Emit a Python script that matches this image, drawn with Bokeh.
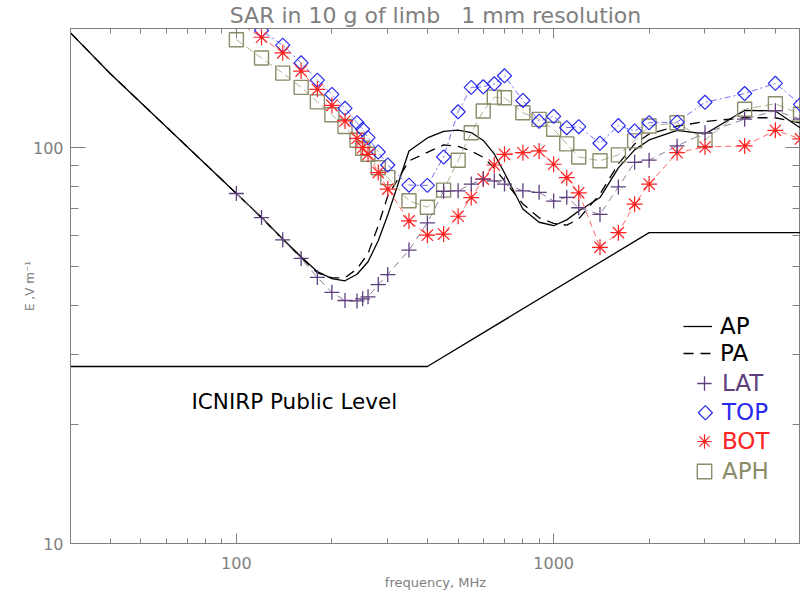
import numpy as np
from bokeh.plotting import figure
from bokeh.models import (LogAxis, FixedTicker, Label, Legend, LegendItem,
                          Range1d, LinearScale)
from bokeh.embed import file_html
from bokeh.resources import INLINE

# ---------------- data ----------------
freq = [100, 120, 140, 160, 180, 200, 220, 240, 250, 260, 280, 300, 350, 400, 450,
        500, 550, 600, 650, 700, 800, 900, 1000, 1100, 1200, 1400, 1600, 1800, 2000,
        2450, 3000, 4000, 5000, 6000]

lat = [76.6, 66.6, 58.5, 52.5, 47.0, 43.1, 41.1, 41.0, 41.5, 42.0, 45.1, 47.8, 55.1, 64.6, 77.6,
       77.8, 80.9, 83.3, 82.4, 80.9, 77.8, 77.1, 73.3, 74.9, 70.5, 67.8, 79.6, 91.8, 93.0,
       101.0, 109.0, 118.0, 124.0, 118.0]

top = [215.0, 197.7, 181.5, 163.8, 148.1, 136.3, 125.7, 115.6, 111.3, 106.0, 97.5, 90.4, 80.4, 80.3, 94.7,
       123.2, 142.0, 142.5, 145.0, 151.9, 131.6, 116.6, 120.0, 112.3, 113.0, 102.6, 113.7, 110.2, 115.6,
       116.0, 130.2, 137.0, 145.4, 128.6]

bot = [208.0, 190.1, 173.6, 156.1, 140.4, 127.9, 116.8, 105.6, 100.0, 96.2, 86.5, 78.6, 65.3, 60.1, 60.5,
       67.1, 74.8, 83.3, 90.4, 96.2, 97.1, 98.1, 90.8, 84.0, 76.9, 56.0, 61.0, 72.0, 80.9,
       97.1, 100.4, 101.0, 110.6, 105.2]

aph = [187.4, 168.4, 154.3, 142.0, 130.5, 121.1, 113.1, 104.4, 99.7, 96.2, 89.0, 84.0, 73.4, 70.7, 78.1,
       92.9, 109.1, 123.8, 134.2, 133.7, 122.5, 117.9, 111.3, 102.2, 94.7, 92.7, 95.9, 104.0, 113.4,
       115.6, 104.6, 125.0, 129.1, 121.4]

curve_freq = [30, 40, 100, 120, 140, 160, 180, 200, 220, 240, 260, 280, 300, 350, 400, 450,
              500, 550, 600, 650, 700, 800, 900, 1000, 1100, 1200, 1400, 1600, 1800, 2000,
              2450, 3000, 4000, 5000, 6000]

ap = [195.0, 154.0, 76.6, 66.7, 58.8, 53.0, 48.6, 46.7, 46.1, 47.9, 51.5, 58.2, 67.6, 98.1, 105.8, 109.9,
      110.8, 109.2, 104.3, 96.4, 86.3, 70.0, 64.8, 63.5, 65.7, 69.2, 74.8, 88.9, 98.7, 104.6,
      110.6, 108.3, 124.2, 123.8, 112.1]

pa = [195.0, 154.0, 76.6, 66.5, 58.6, 52.8, 48.3, 46.9, 46.9, 49.4, 54.0, 63.5, 75.5, 92.6, 97.3, 101.6,
      100.7, 98.1, 94.5, 88.9, 82.4, 72.1, 66.5, 64.4, 63.7, 66.1, 76.4, 91.0, 102.2, 108.3,
      113.4, 116.4, 119.0, 119.0, 115.4]

icnirp_freq = [30, 400, 2000, 6000]
icnirp_e = [28.0, 28.0, 61.0, 61.0]

x_major = [100, 1000]
x_minor = [30, 40, 50, 60, 70, 80, 90, 200, 300, 400, 500, 600, 700, 800, 900,
           2000, 3000, 4000, 5000, 6000]
y_major = [10, 100]
y_minor = [20, 30, 40, 50, 60, 70, 80, 90, 200]

TITLE = "SAR in 10 g of limb \u00a0\u00a01 mm resolution"

# legend key layout (pixels inside the plot frame, from its bottom-left corner)
FRAME_W, FRAME_H = 729, 516
KEY_LEFT = 616
KEY_X = KEY_LEFT + 18
TOP_KEY_Y = 131
BOT_KEY_Y = 102

# ---------------- styling ----------------
FONT = "DejaVu Sans"
GRAY = "#808080"
C_LAT = "#5e3f7e"
C_TOP = "#2a2aee"
C_BOT = "#ff2222"
C_APH = "#8c8c6a"

p = figure(width=800, height=597, x_axis_type="log", y_axis_type="log",
           x_range=(30, 6000), y_range=(10, 200),
           output_backend="svg", toolbar_location=None,
           min_border_left=70, min_border_right=0, min_border_top=27, min_border_bottom=54)
p.grid.visible = False
p.outline_line_color = GRAY
p.background_fill_color = "white"
p.border_fill_color = "white"

p.extra_x_ranges = {"kx": Range1d(0, FRAME_W)}
p.extra_y_ranges = {"ky": Range1d(0, FRAME_H)}
p.extra_x_scales = {"kx": LinearScale()}
p.extra_y_scales = {"ky": LinearScale()}

p.title.text = TITLE
p.title.align = "center"
p.title.text_font = FONT
p.title.text_font_size = "22px"
p.title.text_font_style = "normal"
p.title.text_color = GRAY
p.title.standoff = 1
p.title.offset = 0

xt = FixedTicker(ticks=x_major, minor_ticks=x_minor)
yt = FixedTicker(ticks=y_major, minor_ticks=y_minor)

for ax in p.xaxis:
    ax.ticker = xt
    ax.major_label_overrides = {100: "100", 1000: "1000"}
    ax.major_tick_in = 10
    ax.major_tick_out = 0
    ax.minor_tick_in = 5
    ax.minor_tick_out = 0
    ax.axis_line_color = GRAY
    ax.major_tick_line_color = GRAY
    ax.minor_tick_line_color = GRAY
    ax.major_label_text_font = FONT
    ax.major_label_text_font_size = "16px"
    ax.major_label_text_color = GRAY
    ax.major_label_standoff = 13
    ax.axis_label = "frequency, MHz"
    ax.axis_label_text_font = FONT
    ax.axis_label_text_font_size = "13px"
    ax.axis_label_text_font_style = "normal"
    ax.axis_label_text_color = GRAY
    ax.axis_label_standoff = 3

for ax in p.yaxis:
    ax.ticker = yt
    ax.major_label_overrides = {10: "10", 100: "100"}
    ax.major_tick_in = 15
    ax.major_tick_out = 0
    ax.minor_tick_in = 8
    ax.minor_tick_out = 0
    ax.axis_line_color = GRAY
    ax.major_tick_line_color = GRAY
    ax.minor_tick_line_color = GRAY
    ax.major_label_text_font = FONT
    ax.major_label_text_font_size = "16px"
    ax.major_label_text_color = GRAY
    ax.major_label_standoff = 7
    ax.axis_label = "E ,V m\u207b\u00b9"
    ax.axis_label_text_font = FONT
    ax.axis_label_text_font_size = "12px"
    ax.axis_label_text_font_style = "normal"
    ax.axis_label_text_color = GRAY
    ax.axis_label_standoff = -7

top_ax = LogAxis(ticker=FixedTicker(ticks=x_major, minor_ticks=x_minor),
                 major_tick_in=10, major_tick_out=0, minor_tick_in=5, minor_tick_out=0,
                 major_label_text_font_size="1px", major_label_text_alpha=0,
                 major_label_standoff=0,
                 axis_line_color=GRAY, major_tick_line_color=GRAY, minor_tick_line_color=GRAY)
p.add_layout(top_ax, "above")
right_ax = LogAxis(ticker=FixedTicker(ticks=y_major, minor_ticks=y_minor),
                   major_tick_in=15, major_tick_out=0, minor_tick_in=8, minor_tick_out=0,
                   major_label_text_font_size="1px", major_label_text_alpha=0,
                   major_label_standoff=0,
                   axis_line_color=GRAY, major_tick_line_color=GRAY, minor_tick_line_color=GRAY)
p.add_layout(right_ax, "right")

# ---------------- glyphs ----------------
p.line(icnirp_freq, icnirp_e, line_color="black", line_width=1.3)

r_ap = p.line(curve_freq, ap, line_color="black", line_width=1.3)
r_pa = p.line(curve_freq, pa, line_color="black", line_width=1.3, line_dash="10 7")

p.line(freq, lat, line_color="#8a7a9c", line_width=1, line_dash="7 5")
p.line(freq, top, line_color="#6f6ff5", line_width=1, line_dash="2 3 6 3")
p.line(freq, bot, line_color="#ff6666", line_width=1, line_dash="6 4")
p.line(freq, aph, line_color="#b0b090", line_width=1, line_dash="8 4")

r_aph = p.scatter(freq, aph, marker="square", size=14, fill_color=None,
                  line_color=C_APH, line_width=1.4)
p.scatter(freq, top, marker="square", angle=np.pi / 4, size=10, fill_color=None,
          line_color=C_TOP, line_width=1.2)
r_bot = p.scatter(freq, bot, marker="asterisk", size=16, line_color=C_BOT, line_width=1.2)
p.scatter(freq, bot, marker="circle", size=3, fill_color=C_BOT, line_color=None)
r_lat = p.scatter(freq, lat, marker="cross", size=15, line_color=C_LAT, line_width=1.3)

# invisible stand-in so that the TOP key only shows its text; its diamond is drawn below
r_top_key = p.scatter([], [], marker="square", fill_alpha=0, line_alpha=0)
p.scatter([KEY_X], [TOP_KEY_Y], x_range_name="kx", y_range_name="ky",
          marker="square", angle=np.pi / 4, size=10, fill_color=None,
          line_color=C_TOP, line_width=1.2)
p.scatter([KEY_X], [BOT_KEY_Y], x_range_name="kx", y_range_name="ky",
          marker="circle", size=3, fill_color=C_BOT, line_color=None)

# ---------------- texts ----------------
p.add_layout(Label(x=121, y=142, x_units="screen", y_units="screen",
                   text="ICNIRP Public Level", text_align="left", text_baseline="middle",
                   text_font=FONT, text_font_size="21.5px", text_color="black"))


def add_key(label, renderer, color, x, y, gw, gh, standoff):
    lg = Legend(items=[LegendItem(label=label, renderers=[renderer])],
                location=(x, y), orientation="vertical",
                padding=0, margin=0, spacing=0,
                border_line_alpha=0, background_fill_alpha=0,
                glyph_width=gw, glyph_height=gh, label_height=20,
                label_standoff=standoff,
                label_text_font=FONT, label_text_font_size="23px",
                label_text_color=color)
    p.add_layout(lg)


add_key("AP", r_ap, "black", 613, 204, 29, 20, 8)
add_key("PA", r_pa, "black", 613, 177, 29, 20, 8)
add_key("LAT", r_lat, C_LAT, KEY_LEFT, 142, 36, 36, 0)
add_key("TOP", r_top_key, C_TOP, KEY_LEFT, 113, 36, 36, 0)
add_key("BOT", r_bot, C_BOT, KEY_LEFT, 84, 36, 36, 0)
add_key("APH", r_aph, C_APH, KEY_LEFT, 54, 36, 36, 0)

open("out.html", "w").write(file_html(p, INLINE))
